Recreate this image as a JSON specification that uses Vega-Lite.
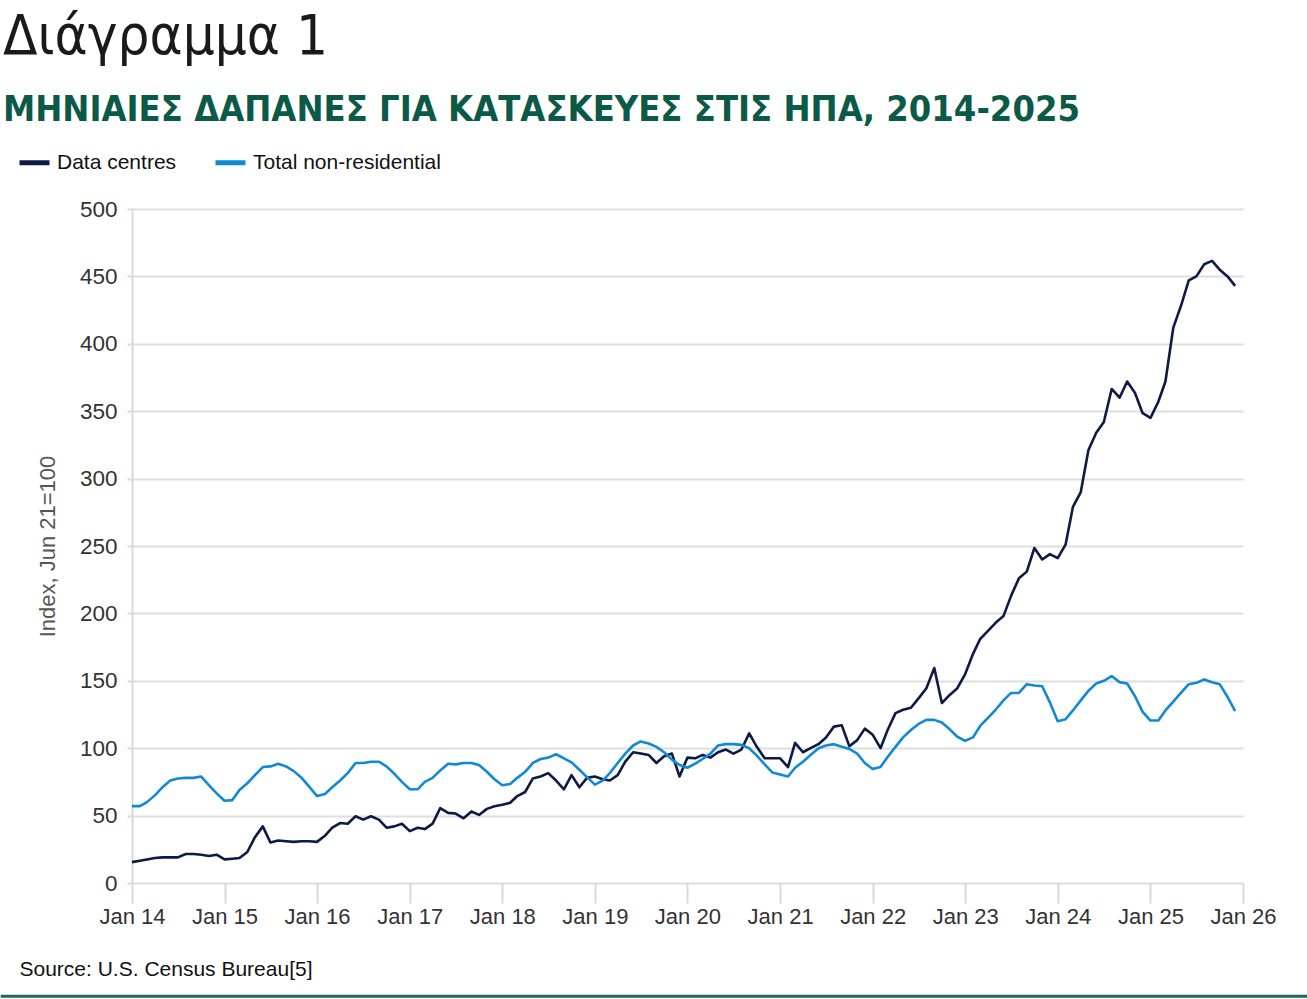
{
"$schema": "https://vega.github.io/schema/vega-lite/v6.json",
"width": 1111, "height": 674,
"autosize": {"type": "none"},
"padding": {"left": 132, "top": 209, "right": 64, "bottom": 116},
"background": "white",
"config": {"view": {"stroke": null}},
"title": {"text": "Διάγραμμα 1", "subtitle": "ΜΗΝΙΑΙΕΣ ΔΑΠΑΝΕΣ ΓΙΑ ΚΑΤΑΣΚΕΥΕΣ ΣΤΙΣ ΗΠΑ, 2014-2025", "anchor": "start", "frame": "group", "dx": -129, "font": "DejaVu Sans Condensed, Roboto Condensed, Roboto", "fontSize": 56, "fontWeight": "normal", "color": "#1a1a1a", "subtitleFont": "DejaVu Sans Condensed, Roboto Condensed, Roboto", "subtitleFontSize": 36, "subtitleFontWeight": "bold", "subtitleColor": "#0b5a48", "subtitlePadding": 27, "offset": 16},
"data": {"values": [
{"d":"2014-01-01","dc":15.5,"tnr":57},{"d":"2014-02-01","dc":16.5,"tnr":57},{"d":"2014-03-01","dc":17.5,"tnr":60},{"d":"2014-04-01","dc":18.5,"tnr":65},{"d":"2014-05-01","dc":19,"tnr":71},{"d":"2014-06-01","dc":19,"tnr":76},{"d":"2014-07-01","dc":19,"tnr":77.5},{"d":"2014-08-01","dc":21.5,"tnr":78},{"d":"2014-09-01","dc":21.5,"tnr":78},{"d":"2014-10-01","dc":21,"tnr":79},{"d":"2014-11-01","dc":20,"tnr":72.5},{"d":"2014-12-01","dc":21,"tnr":66.5},
{"d":"2015-01-01","dc":17.5,"tnr":61},{"d":"2015-02-01","dc":18,"tnr":61.5},{"d":"2015-03-01","dc":18.5,"tnr":69},{"d":"2015-04-01","dc":23,"tnr":74},{"d":"2015-05-01","dc":34,"tnr":80},{"d":"2015-06-01","dc":42,"tnr":86},{"d":"2015-07-01","dc":30,"tnr":86.5},{"d":"2015-08-01","dc":31.5,"tnr":88.5},{"d":"2015-09-01","dc":31,"tnr":86.5},{"d":"2015-10-01","dc":30.5,"tnr":83},{"d":"2015-11-01","dc":31,"tnr":78},{"d":"2015-12-01","dc":31,"tnr":71.5},
{"d":"2016-01-01","dc":30.5,"tnr":64.5},{"d":"2016-02-01","dc":35,"tnr":66},{"d":"2016-03-01","dc":41,"tnr":71},{"d":"2016-04-01","dc":44.5,"tnr":76},{"d":"2016-05-01","dc":44,"tnr":81.5},{"d":"2016-06-01","dc":49.5,"tnr":89},{"d":"2016-07-01","dc":47,"tnr":89},{"d":"2016-08-01","dc":49.5,"tnr":90},{"d":"2016-09-01","dc":47,"tnr":90},{"d":"2016-10-01","dc":41,"tnr":86.5},{"d":"2016-11-01","dc":42,"tnr":81},{"d":"2016-12-01","dc":44,"tnr":75},
{"d":"2017-01-01","dc":38.5,"tnr":69.5},{"d":"2017-02-01","dc":41,"tnr":69.5},{"d":"2017-03-01","dc":40,"tnr":75},{"d":"2017-04-01","dc":44,"tnr":78},{"d":"2017-05-01","dc":55.5,"tnr":83.5},{"d":"2017-06-01","dc":52,"tnr":88.5},{"d":"2017-07-01","dc":51.5,"tnr":88},{"d":"2017-08-01","dc":48,"tnr":89},{"d":"2017-09-01","dc":53,"tnr":89},{"d":"2017-10-01","dc":50.5,"tnr":87.5},{"d":"2017-11-01","dc":55,"tnr":82.5},{"d":"2017-12-01","dc":57,"tnr":77},
{"d":"2018-01-01","dc":58,"tnr":72.5},{"d":"2018-02-01","dc":59.5,"tnr":73.5},{"d":"2018-03-01","dc":64.5,"tnr":78},{"d":"2018-04-01","dc":67.5,"tnr":82.5},{"d":"2018-05-01","dc":77.5,"tnr":89},{"d":"2018-06-01","dc":79,"tnr":92},{"d":"2018-07-01","dc":81.5,"tnr":93},{"d":"2018-08-01","dc":76,"tnr":95.5},{"d":"2018-09-01","dc":69.5,"tnr":92.5},{"d":"2018-10-01","dc":80,"tnr":89.5},{"d":"2018-11-01","dc":71,"tnr":84},{"d":"2018-12-01","dc":78,"tnr":78.5},
{"d":"2019-01-01","dc":79,"tnr":73},{"d":"2019-02-01","dc":77,"tnr":76},{"d":"2019-03-01","dc":76,"tnr":81.5},{"d":"2019-04-01","dc":80,"tnr":89},{"d":"2019-05-01","dc":90,"tnr":96},{"d":"2019-06-01","dc":97,"tnr":102},{"d":"2019-07-01","dc":96,"tnr":105},{"d":"2019-08-01","dc":95,"tnr":103.5},{"d":"2019-09-01","dc":89,"tnr":101},{"d":"2019-10-01","dc":94,"tnr":97},{"d":"2019-11-01","dc":96,"tnr":91.5},{"d":"2019-12-01","dc":79,"tnr":87.5},
{"d":"2020-01-01","dc":93,"tnr":85.5},{"d":"2020-02-01","dc":92.5,"tnr":88.5},{"d":"2020-03-01","dc":95,"tnr":92},{"d":"2020-04-01","dc":93,"tnr":96},{"d":"2020-05-01","dc":97,"tnr":102},{"d":"2020-06-01","dc":99,"tnr":103},{"d":"2020-07-01","dc":96,"tnr":103},{"d":"2020-08-01","dc":99,"tnr":102.5},{"d":"2020-09-01","dc":111,"tnr":100},{"d":"2020-10-01","dc":101,"tnr":94.5},{"d":"2020-11-01","dc":92.5,"tnr":88},{"d":"2020-12-01","dc":92.5,"tnr":82},
{"d":"2021-01-01","dc":92.5,"tnr":80.5},{"d":"2021-02-01","dc":86,"tnr":79},{"d":"2021-03-01","dc":104,"tnr":85.5},{"d":"2021-04-01","dc":97,"tnr":90},{"d":"2021-05-01","dc":100,"tnr":95},{"d":"2021-06-01","dc":103,"tnr":100},{"d":"2021-07-01","dc":108,"tnr":102},{"d":"2021-08-01","dc":116,"tnr":103},{"d":"2021-09-01","dc":117,"tnr":101},{"d":"2021-10-01","dc":101.5,"tnr":99.5},{"d":"2021-11-01","dc":106,"tnr":96},{"d":"2021-12-01","dc":114.5,"tnr":89},
{"d":"2022-01-01","dc":110,"tnr":84.5},{"d":"2022-02-01","dc":100,"tnr":86},{"d":"2022-03-01","dc":113.5,"tnr":93.5},{"d":"2022-04-01","dc":126,"tnr":101},{"d":"2022-05-01","dc":128.5,"tnr":108},{"d":"2022-06-01","dc":130,"tnr":113.5},{"d":"2022-07-01","dc":137,"tnr":118},{"d":"2022-08-01","dc":144.5,"tnr":121},{"d":"2022-09-01","dc":159.5,"tnr":121},{"d":"2022-10-01","dc":133.5,"tnr":119},{"d":"2022-11-01","dc":139.5,"tnr":114},{"d":"2022-12-01","dc":144.5,"tnr":108.5},
{"d":"2023-01-01","dc":155,"tnr":105.5},{"d":"2023-02-01","dc":170,"tnr":108},{"d":"2023-03-01","dc":181,"tnr":116.5},{"d":"2023-04-01","dc":187,"tnr":122.5},{"d":"2023-05-01","dc":193,"tnr":128.5},{"d":"2023-06-01","dc":198,"tnr":135.5},{"d":"2023-07-01","dc":213,"tnr":141},{"d":"2023-08-01","dc":226,"tnr":141},{"d":"2023-09-01","dc":231,"tnr":147.5},{"d":"2023-10-01","dc":248.5,"tnr":146.5},{"d":"2023-11-01","dc":240,"tnr":146},{"d":"2023-12-01","dc":244,"tnr":134},
{"d":"2024-01-01","dc":241,"tnr":120},{"d":"2024-02-01","dc":251,"tnr":121.5},{"d":"2024-03-01","dc":279,"tnr":128},{"d":"2024-04-01","dc":290,"tnr":135.5},{"d":"2024-05-01","dc":321,"tnr":142.5},{"d":"2024-06-01","dc":334,"tnr":148},{"d":"2024-07-01","dc":342,"tnr":150},{"d":"2024-08-01","dc":366.5,"tnr":153.5},{"d":"2024-09-01","dc":360,"tnr":149},{"d":"2024-10-01","dc":372,"tnr":148},{"d":"2024-11-01","dc":363.5,"tnr":138.5},{"d":"2024-12-01","dc":348.5,"tnr":127},
{"d":"2025-01-01","dc":345,"tnr":120.5},{"d":"2025-02-01","dc":357,"tnr":120.5},{"d":"2025-03-01","dc":372,"tnr":128},{"d":"2025-04-01","dc":412,"tnr":134.5},{"d":"2025-05-01","dc":428,"tnr":141},{"d":"2025-06-01","dc":447,"tnr":147.5},{"d":"2025-07-01","dc":450,"tnr":148.5},{"d":"2025-08-01","dc":459,"tnr":151},{"d":"2025-09-01","dc":461.5,"tnr":149},{"d":"2025-10-01","dc":455,"tnr":147.5},{"d":"2025-11-01","dc":450,"tnr":138},{"d":"2025-12-01","dc":443,"tnr":127.5}
]},
"layer": [
{"transform": [{"fold": ["dc", "tnr"], "as": ["series", "value"]}],
 "mark": {"type": "line", "strokeWidth": 2.6, "strokeJoin": "round"},
 "encoding": {
  "x": {"field": "d", "type": "temporal",
    "scale": {"type": "utc", "domain": [{"year": 2014, "month": 1, "date": 1, "utc": true}, {"year": 2026, "month": 1, "date": 1, "utc": true}]},
    "axis": {"title": "Source: U.S. Census Bureau[5]", "titleAnchor": "start", "titleAlign": "left", "titleX": -113, "titleY": 86, "titleBaseline": "middle", "titleFont": "Liberation Sans", "titleFontSize": 21, "titleFontWeight": "normal", "titleColor": "#111",
      "tickCount": {"interval": "year", "step": 1}, "labelExpr": "'Jan ' + utcFormat(datum.value, '%y')", "labelFont": "Liberation Sans", "labelFontSize": 22, "labelColor": "#333", "labelPadding": 3, "labelFlush": false, "labelOverlap": false,
      "tickSize": 20, "tickColor": "#d9d9d9", "tickWidth": 2, "domain": false, "grid": false}},
  "y": {"field": "value", "type": "quantitative", "scale": {"domain": [0, 500], "nice": false},
    "axis": {"title": "Index, Jun 21=100", "titleFont": "Liberation Sans", "titleFontSize": 22, "titleColor": "#555", "titleFontWeight": "normal", "titlePadding": 20,
      "values": [0, 50, 100, 150, 200, 250, 300, 350, 400, 450, 500], "labelFont": "Liberation Sans", "labelFontSize": 22.5, "labelColor": "#333", "labelPadding": 10,
      "tickSize": 5, "tickColor": "#d9d9d9", "tickWidth": 2, "domainColor": "#d9d9d9", "domainWidth": 2, "gridColor": "#dedede", "gridWidth": 2}},
  "color": {"field": "series", "type": "nominal", "scale": {"domain": ["dc", "tnr"], "range": ["#0c1a45", "#1189d3"]},
    "legend": {"orient": "none", "legendX": -115, "legendY": -64, "direction": "horizontal", "title": null, "symbolType": "stroke", "symbolStrokeWidth": 5, "symbolSize": 900, "labelFont": "Liberation Sans", "labelFontSize": 21, "labelColor": "#111", "labelOffset": 5, "labelLimit": 400, "columnPadding": 28, "labelExpr": "datum.label == 'dc' ? 'Data centres' : 'Total non-residential'"}}
 }},
{"data": {"values": [{"a": "2012-08-01", "b": "2026-10-01"}]},
 "mark": {"type": "rule", "color": "#1d6a55", "strokeWidth": 3, "clip": false},
 "encoding": {"x": {"field": "a", "type": "temporal"}, "x2": {"field": "b"}, "y": {"datum": -84}}}
]
}
